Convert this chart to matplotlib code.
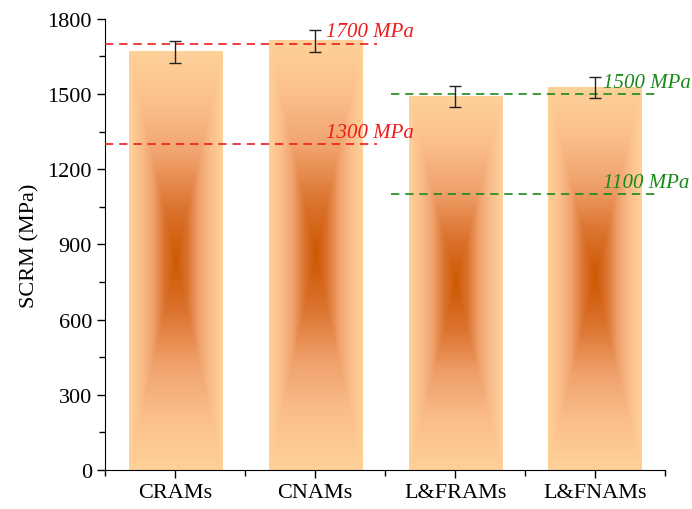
import numpy as np
import matplotlib.pyplot as plt
from matplotlib.colors import LinearSegmentedColormap

plt.rcParams['font.family'] = ['Liberation Serif', 'DejaVu Serif']

# SCRM values (MPa) with error
groups = ['CRAMs', 'CNAMs', 'L&FRAMs', 'L&FNAMs']
scrm = [1668, 1712, 1490, 1525]
scrm_err = [45, 43, 42, 42]

# reference levels: (value, x start, x end, colour)
ref_levels = [1700, 1300, 1500, 1100]
ref_spans = [(-0.5, 1.44), (-0.5, 1.44), (1.54, 3.43), (1.54, 3.43)]
ref_colors = ['#ee1c1c', '#ee1c1c', '#1a8a1a', '#1a8a1a']
ref_text_x = [1.08, 1.08, 3.06, 3.06]

bar_w = 0.665
light = '#fed199'
cmap = LinearSegmentedColormap.from_list(
    'bar', ['#cc5800', '#dc7430', '#f0a26c', '#fbbf8c', light])

fig = plt.figure(figsize=(6.92, 5.10), dpi=100)
ax = fig.add_axes([0.152, 0.0765, 0.809, 0.8845])

x = np.arange(len(groups))

# gradient fill for each bar: dark centre, light edges (rectangular falloff)
nu, nv = 200, 400
u = np.abs(np.linspace(-1, 1, nu))
v = np.abs(np.linspace(-1, 1, nv))
uu, vv = np.meshgrid(u, v)
t = np.maximum(uu, vv)
for xi, h in zip(x, scrm):
    ax.imshow(t, cmap=cmap, vmin=0, vmax=1, origin='lower', aspect='auto',
              extent=[xi - bar_w / 2, xi + bar_w / 2, 0, h],
              interpolation='bilinear', zorder=1)

ax.errorbar(x, scrm, yerr=scrm_err, fmt='none', ecolor='#222222',
            elinewidth=1.0, capsize=4, capthick=1.0, zorder=4)

for val, (x0, x1), c, tx in zip(ref_levels, ref_spans, ref_colors, ref_text_x):
    ax.plot([x0, x1], [val, val], ls=(0, (5, 3.5)), color=c, lw=1.2, zorder=3)
    ax.text(tx, val + 10, f'{val} MPa', color=c, fontsize=15, style='italic',
            ha='left', va='bottom', zorder=5, clip_on=False)

ax.set_xlim(-0.5, 3.5)
ax.set_ylim(0, 1800)
ax.set_xticks(x)
ax.set_xticklabels(groups, fontsize=16)
ax.set_xticks(np.arange(-0.5, 3.6, 1), minor=True)
ax.set_yticks(np.arange(0, 1801, 300))
ax.set_yticks(np.arange(150, 1800, 300), minor=True)
ax.tick_params(axis='y', labelsize=16)
ax.tick_params(which='major', direction='out', length=6, width=1)
ax.tick_params(which='minor', direction='out', length=4, width=1)
ax.set_ylabel('SCRM (MPa)', fontsize=16, labelpad=6)

ax.spines['top'].set_visible(False)
ax.spines['right'].set_visible(False)

fig.savefig('out.png', dpi=100)
